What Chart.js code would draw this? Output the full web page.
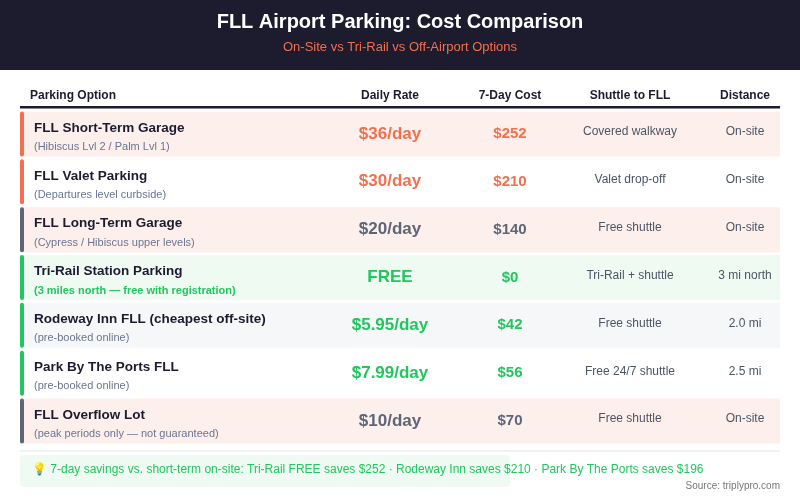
<!DOCTYPE html>
<html lang="en">
<head>
<meta charset="UTF-8">
<title>FLL Airport Parking</title>
<script src="https://cdn.jsdelivr.net/npm/chart.js"></script>
<style>
  body { margin: 0; background: #fff; }
  #wrap { width: 800px; height: 500px; }
</style>
</head>
<body>
<div id="wrap"><canvas id="table"></canvas></div>
<script>
// table data
const options = ['FLL Short-Term Garage', 'FLL Valet Parking', 'FLL Long-Term Garage', 'Tri-Rail Station Parking',
  'Rodeway Inn FLL (cheapest off-site)', 'Park By The Ports FLL', 'FLL Overflow Lot'];
const notes = ['(Hibiscus Lvl 2 / Palm Lvl 1)', '(Departures level curbside)', '(Cypress / Hibiscus upper levels)',
  '(3 miles north — free with registration)', '(pre-booked online)', '(pre-booked online)', '(peak periods only — not guaranteed)'];
const dailyRate = ['$36/day', '$30/day', '$20/day', 'FREE', '$5.95/day', '$7.99/day', '$10/day'];
const weekCost = ['$252', '$210', '$140', '$0', '$42', '$56', '$70'];
const shuttle = ['Covered walkway', 'Valet drop-off', 'Free shuttle', 'Tri-Rail + shuttle', 'Free shuttle', 'Free 24/7 shuttle', 'Free shuttle'];
const distance = ['On-site', 'On-site', 'On-site', '3 mi north', '2.0 mi', '2.5 mi', 'On-site'];
const kind = ['onsite-hi', 'onsite-hi', 'onsite', 'free', 'offsite', 'offsite', 'onsite'];
const headers = ['Parking Option', 'Daily Rate', '7-Day Cost', 'Shuttle to FLL', 'Distance'];

const ORANGE = '#f26f4f', GREEN = '#22c55e', GRAY = '#5d6577', DARK = '#1c1c2e';
const rowFill = { 'onsite-hi': '#fdf0ec', onsite: '#fdf0ec', free: '#effbf2', offsite: '#f6f7f9' };
const accent = { 'onsite-hi': ORANGE, onsite: GRAY, free: GREEN, offsite: GREEN };
const valueColor = { 'onsite-hi': ORANGE, onsite: GRAY, free: GREEN, offsite: GREEN };
const fills = kind.map((k, i) => (i === 1 || i === 5) ? '#ffffff' : rowFill[k]);

// column x positions, measured from the table's left edge
const colX = [14, 370, 490, 610, 725];
const FONT = 'Arial, "Liberation Sans", sans-serif';

const textPlugin = {
  id: 'tableText',
  afterDatasetsDraw(chart) {
    const ctx = chart.ctx, x = chart.scales.x, y = chart.scales.y;
    ctx.save();
    // header band
    ctx.fillStyle = DARK;
    ctx.fillRect(0, 0, chart.width, 70);
    ctx.textAlign = 'center';
    ctx.textBaseline = 'middle';
    ctx.fillStyle = '#fff';
    ctx.font = 'bold 20px ' + FONT;
    ctx.fillText('FLL Airport Parking: Cost Comparison', 400, 22);
    ctx.fillStyle = ORANGE;
    ctx.font = '13px ' + FONT;
    ctx.fillText('On-Site vs Tri-Rail vs Off-Airport Options', 400, 47);

    // column headers
    ctx.fillStyle = DARK;
    ctx.font = 'bold 12px ' + FONT;
    headers.forEach((h, c) => {
      ctx.textAlign = c === 0 ? 'left' : 'center';
      ctx.fillText(h, x.getPixelForValue(c === 0 ? colX[0] - 4 : colX[c]), 96);
    });
    ctx.fillRect(x.left, 106, x.right - x.left, 2.5);

    options.forEach((name, i) => {
      const yc = y.getPixelForValue(i);
      const k = kind[i];
      ctx.textAlign = 'left';
      ctx.fillStyle = DARK;
      ctx.font = 'bold 13.5px ' + FONT;
      ctx.fillText(name, x.getPixelForValue(colX[0]), yc - 6);
      ctx.fillStyle = k === 'free' ? GREEN : '#6b7590';
      ctx.font = (k === 'free' ? 'bold ' : '') + '11px ' + FONT;
      ctx.fillText(notes[i], x.getPixelForValue(colX[0]), yc + 13);
      ctx.textAlign = 'center';
      ctx.fillStyle = valueColor[k];
      ctx.font = 'bold 17px ' + FONT;
      ctx.fillText(dailyRate[i], x.getPixelForValue(colX[1]), yc);
      ctx.font = 'bold 15px ' + FONT;
      ctx.fillText(weekCost[i], x.getPixelForValue(colX[2]), yc);
      ctx.fillStyle = '#4b5563';
      ctx.font = '12px ' + FONT;
      ctx.fillText(shuttle[i], x.getPixelForValue(colX[3]), yc - 2);
      ctx.fillText(distance[i], x.getPixelForValue(colX[4]), yc - 2);
    });

    // footer
    ctx.fillStyle = '#eef3f8';
    ctx.fillRect(x.left, 450, x.right - x.left, 2);
    ctx.fillStyle = '#effbf2';
    ctx.beginPath();
    ctx.roundRect(20, 455, 490, 32, 4);
    ctx.fill();
    ctx.textAlign = 'left';
    ctx.fillStyle = GREEN;
    ctx.font = '12px "Liberation Sans Narrow", ' + FONT;
    ctx.fillText('💡 7-day savings vs. short-term on-site: Tri-Rail FREE saves $252 · Rodeway Inn saves $210 · Park By The Ports saves $196', 32, 470);
    ctx.textAlign = 'right';
    ctx.fillStyle = '#777';
    ctx.font = '10px ' + FONT;
    ctx.fillText('Source: triplypro.com', 780, 486);
    ctx.restore();
  }
};

new Chart(document.getElementById('table'), {
  type: 'bar',
  data: {
    labels: options,
    datasets: [
      { data: options.map(() => [0, 4]), backgroundColor: kind.map(k => accent[k]), order: 0, grouped: false, barPercentage: 0.94, categoryPercentage: 1, borderRadius: 2, borderSkipped: false },
      { data: options.map(() => [0, 760]), backgroundColor: fills, order: 1, grouped: false, barPercentage: 0.94, categoryPercentage: 1 }
    ]
  },
  options: {
    indexAxis: 'y',
    responsive: true,
    maintainAspectRatio: false,
    animation: false,
    layout: { padding: { left: 20, right: 20, top: 110, bottom: 55 } },
    scales: {
      x: { display: false, min: 0, max: 760 },
      y: { display: false }
    },
    plugins: { legend: { display: false }, tooltip: { enabled: false } }
  },
  plugins: [textPlugin]
});
</script>
</body>
</html>
